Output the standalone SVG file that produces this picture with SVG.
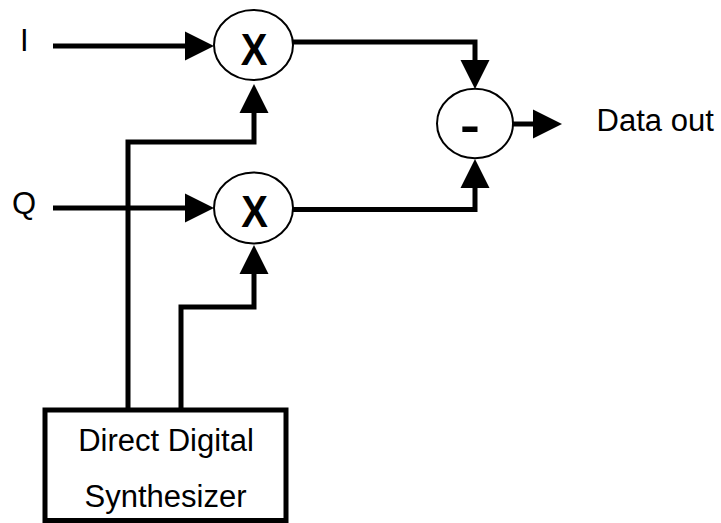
<svg xmlns="http://www.w3.org/2000/svg" width="721" height="523" viewBox="0 0 721 523">
  <style>
    .wire { fill: none; stroke: #000; stroke-width: 5; stroke-linejoin: miter; }
    .op { fill: #fff; stroke: #000; stroke-width: 2; }
    .box { fill: #fff; stroke: #000; stroke-width: 5; }
    .lbl { font-family: "Liberation Sans", Arial, sans-serif; font-size: 31px; fill: #000; }
    .sym { font-family: "Liberation Sans", Arial, sans-serif; font-weight: bold; fill: #000; }
  </style>
  <defs>
    <!-- arrowhead starts at the wire end and extends 29px beyond it -->
    <marker id="arrow" markerUnits="userSpaceOnUse" markerWidth="30" markerHeight="30" refX="0" refY="14.5" orient="auto" overflow="visible">
      <path d="M0,0 L29,14.5 L0,29 Z" fill="#000"/>
    </marker>
  </defs>

  <rect width="721" height="523" fill="#fff"/>

  <g id="connectors">
    <path class="wire" d="M53,46 H185" marker-end="url(#arrow)"/>
    <path class="wire" d="M53,208 H185" marker-end="url(#arrow)"/>
    <path class="wire" d="M128,410 V142 H254 V113" marker-end="url(#arrow)"/>
    <path class="wire" d="M181,410 V307 H254 V274" marker-end="url(#arrow)"/>
    <path class="wire" d="M293,42 H475 V60" marker-end="url(#arrow)"/>
    <path class="wire" d="M293,209.5 H475 V188" marker-end="url(#arrow)"/>
    <path class="wire" d="M513,124 H533" marker-end="url(#arrow)"/>
  </g>

  <g id="input-i">
    <text class="lbl" x="20" y="51">I</text>
  </g>
  <g id="input-q">
    <text class="lbl" x="12" y="214">Q</text>
  </g>

  <g id="mixer-i">
    <ellipse class="op" cx="253.5" cy="45" rx="39.5" ry="35"/>
    <text class="sym" transform="translate(254,64.5) scale(1,1.12)" font-size="40" text-anchor="middle">X</text>
  </g>
  <g id="mixer-q">
    <ellipse class="op" cx="253.5" cy="208" rx="39.5" ry="35.5"/>
    <text class="sym" transform="translate(254.5,226.7) scale(1,1.12)" font-size="40" text-anchor="middle">X</text>
  </g>

  <g id="subtractor">
    <ellipse class="op" cx="475" cy="123.5" rx="38" ry="34.7"/>
    <text class="sym" transform="translate(460,140.5) scale(1.3,1)" font-size="46">-</text>
  </g>

  <g id="output">
    <text class="lbl" x="596.6" y="131">Data out</text>
  </g>

  <g id="dds">
    <rect class="box" x="45" y="410" width="241" height="110.5"/>
    <text class="lbl" x="166" y="451" text-anchor="middle">Direct Digital</text>
    <text class="lbl" x="165.5" y="507" text-anchor="middle">Synthesizer</text>
  </g>
</svg>
